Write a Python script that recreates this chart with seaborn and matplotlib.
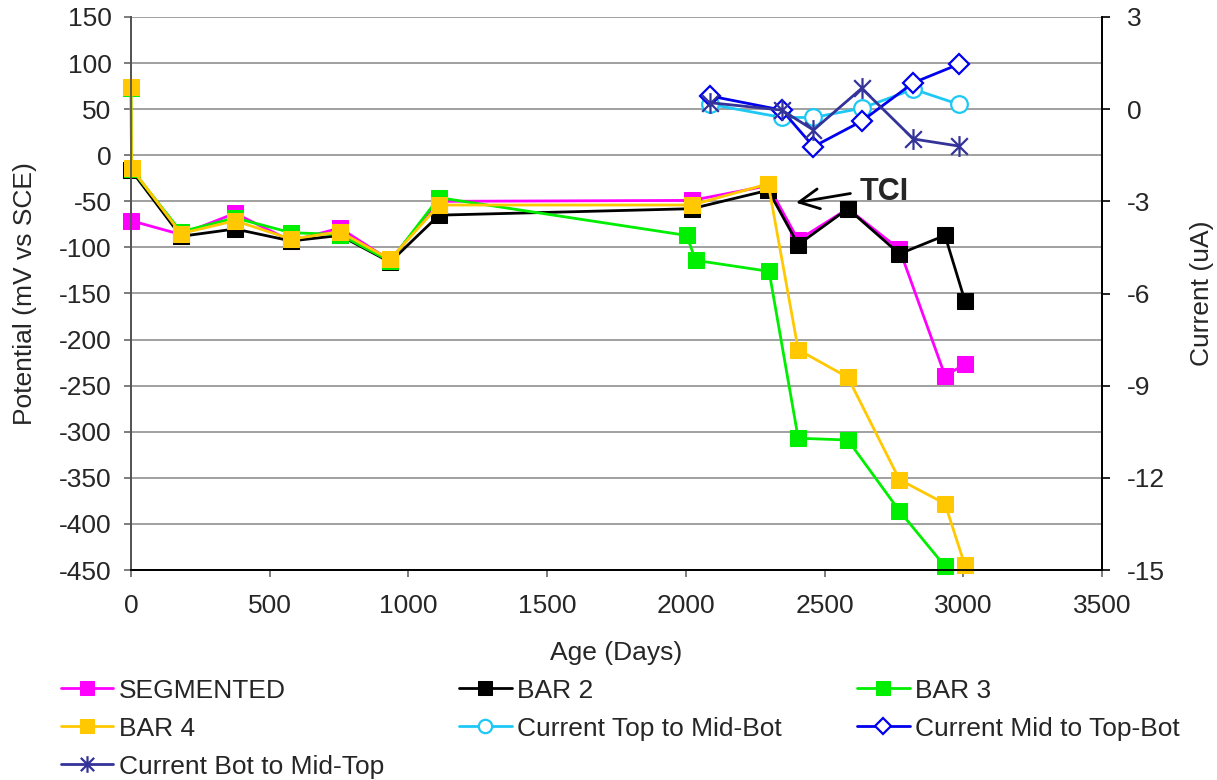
import numpy as np
import pandas as pd
import matplotlib
matplotlib.use("Agg")
import matplotlib.pyplot as plt
from matplotlib.path import Path
import seaborn as sns

# Half-cell potential readings (mV vs SCE) by bar
seg_days = [0, 180, 375, 577, 753, 934, 1110, 2021, 2297, 2405, 2584, 2770, 2934, 3006]
seg_mv = [-71, -86, -63, -93, -79, -114, -50, -49, -33, -92, -58, -102, -239, -227]

bar2_days = [0, 180, 375, 577, 753, 934, 1110, 2021, 2297, 2405, 2584, 2770, 2934, 3006]
bar2_mv = [-16, -88, -80, -93, -87, -116, -65, -58, -38, -97, -58, -107, -87, -158]

bar3_days = [0, 2, 180, 375, 577, 753, 934, 1110, 2003, 2035, 2300, 2405, 2584, 2770, 2934]
bar3_mv = [73, -15, -83, -68, -84, -86, -115, -46, -87, -114, -126, -307, -309, -386, -446]

bar4_days = [0, 2, 180, 375, 577, 753, 934, 1110, 2021, 2297, 2405, 2584, 2770, 2934, 3006]
bar4_mv = [74, -14, -85, -71, -91, -83, -113, -54, -54, -31, -211, -241, -352, -378, -445]

# Macrocell current readings (uA)
cur_days = [2087, 2346, 2460, 2634, 2820, 2983]
cur_top_mid = [0.16, -0.27, -0.27, 0.03, 0.65, 0.16]
cur_mid_top = [0.43, -0.03, -1.22, -0.39, 0.86, 1.46]
cur_bot_mid = [0.21, -0.03, -0.68, 0.68, -0.97, -1.20]

sns.set_theme(style="white")
plt.rcParams["font.family"] = ["Liberation Sans", "DejaVu Sans"]
plt.rcParams["axes.unicode_minus"] = False
FS = 19

fig = plt.figure(figsize=(12.17, 7.80), dpi=100)
ax = fig.add_axes([131 / 1217, 1 - 570 / 780, (1102 - 131) / 1217, (570 - 17) / 780])
ax2 = ax.twinx()

# asterisk marker: vertical stroke plus an X
star = Path(
    [(0, -1), (0, 1), (-0.8, -0.8), (0.8, 0.8), (-0.8, 0.8), (0.8, -0.8)],
    [Path.MOVETO, Path.LINETO, Path.MOVETO, Path.LINETO, Path.MOVETO, Path.LINETO],
)

pot_series = [
    ("SEGMENTED", seg_days, seg_mv, "#FF00FF"),
    ("BAR 2", bar2_days, bar2_mv, "#000000"),
    ("BAR 3", bar3_days, bar3_mv, "#00EE00"),
    ("BAR 4", bar4_days, bar4_mv, "#FFC800"),
]
for name, d, v, c in pot_series:
    sns.lineplot(x=d, y=v, ax=ax, estimator=None, sort=False, color=c,
                 linewidth=2.0, marker="s", markersize=12, markeredgecolor=c,
                 markerfacecolor=c, label=name, zorder=3, clip_on=False)

cur_series = [
    ("Current Top to Mid-Bot", cur_top_mid, "#1EC8F5", "o", 12),
    ("Current Mid to Top-Bot", cur_mid_top, "#0000EE", "D", 10),
    ("Current Bot to Mid-Top", cur_bot_mid, "#333399", star, 15),
]
for name, v, c, m, msize in cur_series:
    sns.lineplot(x=cur_days, y=v, ax=ax2, estimator=None, sort=False, color=c,
                 linewidth=2.0, marker=m, markersize=msize, markeredgecolor=c,
                 markerfacecolor="white" if m is not star else "none",
                 markeredgewidth=1.6, label=name, zorder=3, clip_on=False)

ax.set_xlim(0, 3500)
ax.set_ylim(-450, 150)
ax2.set_ylim(-15, 3)
ax.set_xticks(np.arange(0, 3501, 500))
ax.set_yticks(np.arange(-450, 151, 50))
ax2.set_yticks(np.arange(-15, 4, 3))
ax.grid(axis="y", color="#999999", linewidth=1.3)
ax.grid(axis="x", visible=False)
ax2.grid(False)
ax.set_axisbelow(True)

for a in (ax, ax2):
    a.spines["top"].set_visible(False)
    a.spines["bottom"].set_color("black")
    a.spines["right"].set_color("black")
    a.spines["left"].set_color("#555555")
    for s in a.spines.values():
        s.set_linewidth(1.3)
ax.tick_params(axis="y", direction="out", length=5, width=1.2, color="#666666",
               labelsize=FS, left=True, pad=9)
ax.tick_params(axis="x", direction="out", length=5, width=1.2, color="#666666",
               labelsize=FS, bottom=True, pad=12)
ax2.tick_params(axis="y", direction="out", length=6, width=1.2, color="black",
                labelsize=FS, right=True, pad=12)

ax.set_xlabel("Age (Days)", fontsize=FS, labelpad=17)
ax.set_ylabel("Potential (mV vs SCE)", fontsize=FS, labelpad=16)
ax2.set_ylabel("Current (uA)", fontsize=FS, labelpad=18)

ax.text(2628, -39.5, "TCI", fontsize=22, fontweight="bold", ha="left", va="center")
ax.annotate("", xy=(2387, -52), xytext=(2603, -41),
            arrowprops=dict(arrowstyle="->", lw=2.0, color="black", mutation_scale=36))

h1, l1 = ax.get_legend_handles_labels()
h2, l2 = ax2.get_legend_handles_labels()
ax.get_legend().remove()
ax2.get_legend().remove()
hd = dict(zip(l1 + l2, h1 + h2))
order = ["SEGMENTED", "BAR 4", "Current Bot to Mid-Top",
         "BAR 2", "Current Top to Mid-Bot",
         "BAR 3", "Current Mid to Top-Bot"]
fig.legend([hd[k] for k in order], order, ncol=3, loc="upper left",
           bbox_to_anchor=(50 / 1217, 1 - 668 / 780), frameon=False, fontsize=FS,
           handlelength=2.0, handletextpad=0.2, columnspacing=2.85, labelspacing=0.53,
           markerscale=0.8, borderaxespad=0.0)

fig.savefig("out.png", dpi=100)
